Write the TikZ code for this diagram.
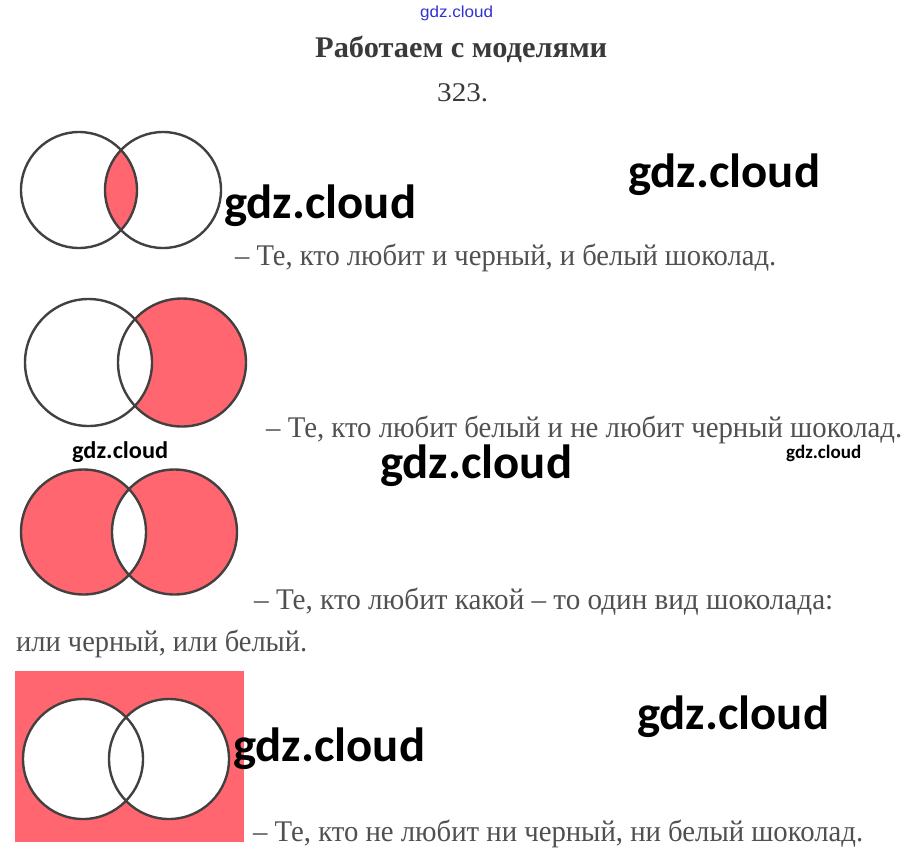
\documentclass[tikz,border=0pt]{standalone}
\usepackage{fontspec}
\setmainfont{Liberation Serif}
\newfontfamily\wmfont{Carlito}
\newfontfamily\topfont{Liberation Sans}
\usepackage{graphicx}
\definecolor{pinkf}{RGB}{255,102,112}
\definecolor{edgec}{RGB}{68,64,64}
\definecolor{txtc}{RGB}{80,80,80}
\definecolor{titc}{RGB}{58,58,58}
\definecolor{bluec}{RGB}{50,50,210}
\newcommand{\fitw}[2]{\resizebox{#1}{\height}{#2}}
\begin{document}
\begin{tikzpicture}[x=1pt,y=-1pt,
  circ/.style={draw=edgec,line width=2.4pt},
  body/.style={anchor=base west,inner sep=0pt,text=txtc,font=\fontsize{30}{30}\selectfont},
  wmk/.style={anchor=base west,inner sep=0pt,text=black,font=\wmfont\bfseries\fontsize{48}{48}\selectfont}]
\useasboundingbox (0,0) rectangle (912,860);
\fill[white] (0,0) rectangle (912,860);

% header
\node[anchor=base west,inner sep=0pt,text=bluec,font=\topfont\fontsize{16}{16}\selectfont] (top) at (420,17) {\fitw{73pt}{gdz.cloud}};
\node[anchor=base west,inner sep=0pt,text=titc,font=\bfseries\fontsize{30}{30}\selectfont] (title) at (315,57) {\fitw{292pt}{Работаем с моделями}};
\node[anchor=base west,inner sep=0pt,text=titc,font=\fontsize{27}{27}\selectfont] (num) at (437,101) {\fitw{51pt}{323.}};

% diagram 1: intersection
\begin{scope}
  \clip (79,190) circle (58);
  \fill[pinkf] (163,190) circle (58);
\end{scope}
\draw[circ] (79,190) circle (58);
\draw[circ] (163,190) circle (58);

% diagram 2: right minus left
\begin{scope}
  \clip (182,362.5) circle (64);
  \fill[pinkf,even odd rule] (182,362.5) circle (64) (88.5,362.5) circle (63.5);
  \fill[pinkf] (145,393) rectangle (260,440);
\end{scope}
\draw[circ] (88.5,362.5) circle (63.5);
\draw[circ] (182,362.5) circle (64);

% diagram 3: symmetric difference
\fill[pinkf,even odd rule] (83.5,532) circle (62.5) (174.5,532) circle (62.5);
\begin{scope}
  \clip (174.5,532) circle (62.5);
  \fill[pinkf] (141,557) rectangle (250,600);
\end{scope}
\draw[circ] (83.5,532) circle (62.5);
\draw[circ] (174.5,532) circle (62.5);

% diagram 4: complement
\fill[pinkf] (15,671) rectangle (244,842);
\fill[white] (83,759) circle (60);
\fill[white] (169,759) circle (60);
\draw[circ] (83,759) circle (60);
\draw[circ] (169,759) circle (60);

% texts
\node[body] (t1) at (235,265) {\fitw{541pt}{– Те, кто любит и черный, и белый шоколад.}};
\node[body] (t2) at (266,437) {\fitw{636pt}{– Те, кто любит белый и не любит черный шоколад.}};
\node[body] (t3) at (254,609) {\fitw{579pt}{– Те, кто любит какой – то один вид шоколада:}};
\node[body] (t4) at (16,651) {\fitw{291pt}{или черный, или белый.}};
\node[body] (t5) at (253,841) {\fitw{610pt}{– Те, кто не любит ни черный, ни белый шоколад.}};

% watermarks
\node[wmk] (w1) at (224,218) {\fitw{192pt}{gdz.cloud}};
\node[wmk] (w2) at (628,187) {\fitw{192pt}{gdz.cloud}};
\node[wmk] (w3) at (380,478) {\fitw{192pt}{gdz.cloud}};
\node[wmk] (w6) at (637,729) {\fitw{192pt}{gdz.cloud}};
\node[wmk] (w7) at (233,761) {\fitw{192pt}{gdz.cloud}};
\node[anchor=base west,inner sep=0pt,font=\wmfont\bfseries\fontsize{24}{24}\selectfont] (w4) at (72,458) {\fitw{96pt}{gdz.cloud}};
\node[anchor=base west,inner sep=0pt,font=\wmfont\bfseries\fontsize{19}{19}\selectfont] (w5) at (786,458) {\fitw{75pt}{gdz.cloud}};
\end{tikzpicture}
\end{document}
